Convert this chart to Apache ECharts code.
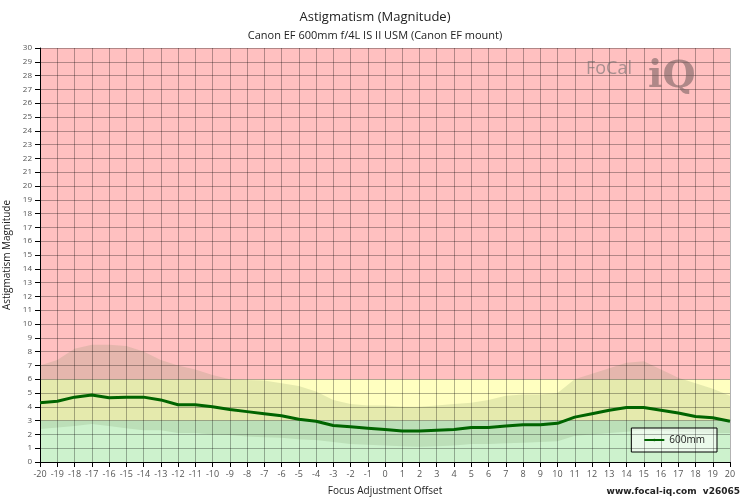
<!DOCTYPE html>
<html>
<head>
<meta charset="utf-8">
<script src="https://cdn.jsdelivr.net/npm/echarts@6/dist/echarts.min.js"></script>
<style>html,body{margin:0;padding:0;background:#fff}#chart{width:750px;height:500px}</style>
</head>
<body>
<div id="chart"></div>
<script>
var offsets = [];
for (var i = -20; i <= 20; i++) offsets.push(String(i));

// 600mm astigmatism magnitude
var magnitude = [4.3, 4.4, 4.7, 4.85, 4.65, 4.7, 4.7, 4.5, 4.15, 4.15, 4.0, 3.8, 3.65, 3.5, 3.35, 3.1, 2.95, 2.65, 2.55, 2.45, 2.35,
  2.25, 2.25, 2.3, 2.35, 2.5, 2.5, 2.6, 2.7, 2.7, 2.8, 3.25, 3.5, 3.75, 3.95, 3.95, 3.75, 3.55, 3.3, 3.2, 2.95];
// shaded range (typical spread)
var bandLow = [2.4, 2.5, 2.6, 2.75, 2.6, 2.45, 2.3, 2.3, 2.1, 2.1, 2.0, 1.95, 1.85, 1.8, 1.75, 1.65, 1.6, 1.45, 1.3, 1.25, 1.2,
  1.15, 1.1, 1.15, 1.2, 1.3, 1.3, 1.35, 1.4, 1.45, 1.5, 1.9, 2.0, 2.1, 2.2, 2.3, 2.25, 2.2, 2.15, 2.1, 2.1];
var bandHigh = [7.0, 7.4, 8.2, 8.5, 8.5, 8.4, 8.0, 7.4, 7.0, 6.7, 6.3, 6.0, 5.95, 5.9, 5.7, 5.5, 5.1, 4.5, 4.2, 4.1, 4.1,
  4.0, 4.0, 4.1, 4.2, 4.3, 4.5, 4.8, 4.9, 4.9, 5.0, 6.0, 6.4, 6.8, 7.2, 7.3, 6.7, 6.1, 5.7, 5.3, 4.8];
var bandDiff = bandHigh.map(function (v, i) { return +(v - bandLow[i]).toFixed(2); });

var chart = echarts.init(document.getElementById('chart'));
var option = {
  animation: false,
  title: {
    text: 'Astigmatism (Magnitude)',
    subtext: 'Canon EF 600mm f/4L IS II USM (Canon EF mount)',
    left: 'center', top: 6, itemGap: 6,
    textStyle: { fontFamily: 'Open Sans', fontSize: 13, fontWeight: 'normal', color: '#222' },
    subtextStyle: { fontFamily: 'Open Sans', fontSize: 11, color: '#222' }
  },
  grid: { left: 40, right: 20, top: 48, bottom: 38, outerBoundsMode: 'none', containLabel: false },
  legend: {
    right: 33, bottom: 48, orient: 'vertical',
    data: ['600mm'],
    backgroundColor: 'rgba(255,255,255,0.6)', borderColor: '#000', borderWidth: 1,
    padding: [7, 12], itemWidth: 20, itemHeight: 3,
    textStyle: { fontFamily: 'Open Sans', fontSize: 10, color: '#222' }
  },
  xAxis: {
    type: 'category', data: offsets, boundaryGap: false, z: 4,
    name: 'Focus Adjustment Offset', nameLocation: 'middle', nameGap: 24,
    nameTextStyle: { fontFamily: 'Open Sans', fontSize: 10, color: '#222' },
    axisLine: { lineStyle: { color: '#000' } },
    axisTick: { show: true, interval: 0, lineStyle: { color: '#000' } },
    axisLabel: { interval: 0, fontFamily: 'Open Sans', fontSize: 9, color: '#555' },
    splitLine: { show: true, interval: 0, lineStyle: { color: 'rgba(0,0,0,0.3)' } }
  },
  yAxis: {
    type: 'value', min: 0, max: 30, interval: 1, z: 4,
    name: 'Astigmatism Magnitude', nameLocation: 'middle', nameGap: 24,
    nameTextStyle: { fontFamily: 'Open Sans', fontSize: 10, color: '#222' },
    axisLine: { show: true, lineStyle: { color: '#000' } },
    axisTick: { show: true, lineStyle: { color: '#000' } },
    axisLabel: { fontFamily: 'Open Sans', fontSize: 8, color: '#555' },
    splitLine: { lineStyle: { color: 'rgba(0,0,0,0.3)' } }
  },
  graphic: [
    { type: 'text', left: 586, top: 60, z: 10, style: { text: 'FoCal', font: '18px "Open Sans"', fill: 'rgba(110,110,110,0.6)' } },
    { type: 'text', left: 648, top: 58, z: 10, style: { text: 'iQ', font: 'bold 38px "DejaVu Serif"', fill: 'rgba(110,90,90,0.55)' } },
    { type: 'text', right: 10, bottom: 4, z: 10, style: { text: 'www.focal-iq.com  v26065', font: 'bold 9px "DejaVu Sans"', fill: '#222' } }
  ],
  series: [
    {
      name: 'zones', type: 'line', data: [], silent: true, z: 0,
      markArea: {
        silent: true,
        data: [
          [{ yAxis: 0, itemStyle: { color: '#cdf2cd' } }, { yAxis: 3 }],
          [{ yAxis: 3, itemStyle: { color: '#ffffc0' } }, { yAxis: 6 }],
          [{ yAxis: 6, itemStyle: { color: '#ffc0c0' } }, { yAxis: 30 }]
        ]
      }
    },
    {
      name: 'low', type: 'line', data: bandLow, stack: 'band', symbol: 'none', silent: true,
      lineStyle: { opacity: 0 }, z: 1
    },
    {
      name: 'high', type: 'line', data: bandDiff, stack: 'band', symbol: 'none', silent: true,
      lineStyle: { opacity: 0 }, areaStyle: { color: 'rgba(110,140,90,0.18)', opacity: 1 }, z: 1
    },
    {
      name: '600mm', type: 'line', data: magnitude, symbol: 'none', z: 6,
      lineStyle: { color: '#006400', width: 3 }, itemStyle: { color: '#006400' }
    }
  ]
};
chart.setOption(option);
</script>
</body>
</html>
